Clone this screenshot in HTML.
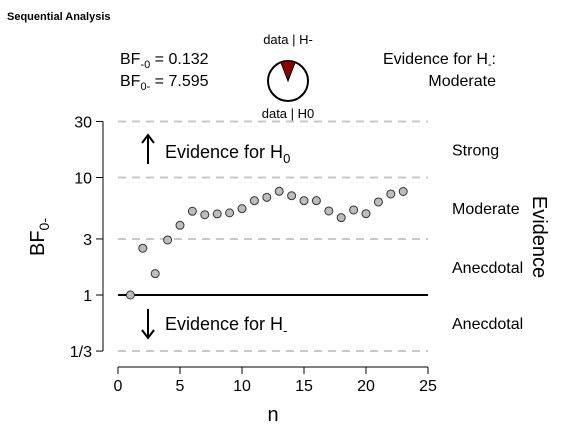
<!DOCTYPE html>
<html><head><meta charset="utf-8"><style>
body{margin:0;background:#fff;width:580px;height:439px;overflow:hidden}
svg{font-family:"Liberation Sans",sans-serif}
</style></head><body>
<svg id="c" width="580" height="439">
<text x="7" y="20" font-size="11" font-weight="bold">Sequential Analysis</text>
<g id="hdr" font-size="16">
<text x="120" y="64">BF<tspan font-size="11" dy="4">-0</tspan><tspan dy="-4"> = 0.132</tspan></text>
<text x="120" y="86">BF<tspan font-size="11" dy="4">0-</tspan><tspan dy="-4"> = 7.595</tspan></text>
<text x="288" y="44" font-size="13" text-anchor="middle">data | H-</text>
<text x="288" y="118" font-size="13" text-anchor="middle">data | H0</text>
<text x="496" y="64" text-anchor="end">Evidence for H<tspan font-size="11" dy="4">-</tspan><tspan dy="-4">:</tspan></text>
<text x="496" y="86" text-anchor="end">Moderate</text>
</g>
<g id="plot"></g>
</svg>
<script>
const nValues=[1,2,3,4,5,6,7,8,9,10,11,12,13,14,15,16,17,18,19,20,21,22,23];
const bfValues=[1,2.5,1.52,2.94,3.92,5.16,4.82,4.9,5.0,5.43,6.35,6.78,7.63,7.0,6.35,6.35,5.19,4.55,5.29,4.92,6.19,7.24,7.6];
const yTicks=[1/3,1,3,10,30];
const yTickLabels=["1/3","1","3","10","30"];
const xTicks=[0,5,10,15,20,25];
const rightLabels=["Strong","Moderate","Anecdotal","Anecdotal"];
const rightLabelVals=[Math.sqrt(300),Math.sqrt(30),Math.sqrt(3),Math.sqrt(1/3)];
const bfMinus0=0.132;

const NS="http://www.w3.org/2000/svg";
const g=document.getElementById('plot');
function X(n){return 118+n*12.4;}
function Y(v){return 295-Math.log10(v)*117.5;}
function mk(t,a,txt){const e=document.createElementNS(NS,t);for(const k in a)e.setAttribute(k,a[k]);if(txt!==undefined)e.textContent=txt;g.appendChild(e);return e;}

// pie
const pc=[288,81],pr=20,p=bfMinus0/(1+bfMinus0),ang=p*2*Math.PI;
let e=mk('circle',{cx:pc[0],cy:pc[1],r:pr,fill:'#fff',stroke:'#000','stroke-width':2});

const a1=-Math.PI/2-ang/2,a2=-Math.PI/2+ang/2;
e=mk('path',{d:`M${pc[0]},${pc[1]} L${pc[0]+pr*Math.cos(a1)},${pc[1]+pr*Math.sin(a1)} A${pr},${pr} 0 0 1 ${pc[0]+pr*Math.cos(a2)},${pc[1]+pr*Math.sin(a2)} Z`,fill:'#8b0000',stroke:'#000','stroke-width':1});


// gridlines
yTicks.forEach((v,i)=>{
 if(v===1)return;
 const l=mk('line',{x1:118,x2:428,y1:Y(v),y2:Y(v),stroke:'#c8c8c8','stroke-width':2,'stroke-dasharray':'8,6'});
 
});
e=mk('line',{x1:118,x2:428,y1:Y(1),y2:Y(1),stroke:'#000','stroke-width':2});


// y axis
e=mk('line',{x1:103,x2:103,y1:Y(30),y2:Y(1/3),stroke:'#000','stroke-width':1});

yTicks.forEach((v,i)=>{
 const t=mk('line',{x1:96,x2:103,y1:Y(v),y2:Y(v),stroke:'#000'});
 
 const tl=mk('text',{x:92,y:Y(v)+6,'font-size':16,'text-anchor':'end'},yTickLabels[i]);
 
});
// x axis
e=mk('line',{x1:X(0),x2:X(25),y1:367,y2:367,stroke:'#000'});

xTicks.forEach(v=>{
 const t=mk('line',{x1:X(v),x2:X(v),y1:367,y2:374,stroke:'#000'});
 
 const tl=mk('text',{x:X(v),y:391,'font-size':16,'text-anchor':'middle'},v);
 
});
e=mk('text',{x:273,y:421,'font-size':20,'text-anchor':'middle'},'n');

e=mk('text',{transform:'translate(44,237) rotate(-90)','font-size':20,'text-anchor':'middle'});
e.innerHTML='BF<tspan font-size="14" dy="5">0-</tspan>';

e=mk('text',{transform:'translate(533,237) rotate(90)','font-size':20,'text-anchor':'middle'},'Evidence');

rightLabels.forEach((s,i)=>{
 const t=mk('text',{x:452,y:Y(rightLabelVals[i])+6,'font-size':16},s);
 
});
// arrows
e=mk('text',{x:165,y:158,'font-size':18},'');
e.innerHTML='Evidence for H<tspan font-size="13" dy="5">0</tspan>';

e=mk('text',{x:165,y:330,'font-size':18},'');
e.innerHTML='Evidence for H<tspan font-size="13" dy="5">-</tspan>';

e=mk('path',{d:'M148,164 L148,136 M142,143 L148,135 L154,143',stroke:'#000','stroke-width':2,fill:'none'});

e=mk('path',{d:'M148,309 L148,337 M142,330 L148,338 L154,330',stroke:'#000','stroke-width':2,fill:'none'});

// points
nValues.forEach((n,i)=>{
 const c=mk('circle',{cx:X(n),cy:Y(bfValues[i]),r:4,fill:'#bdbdbd',stroke:'#333','stroke-width':1});
 
});
</script>
</body></html>
